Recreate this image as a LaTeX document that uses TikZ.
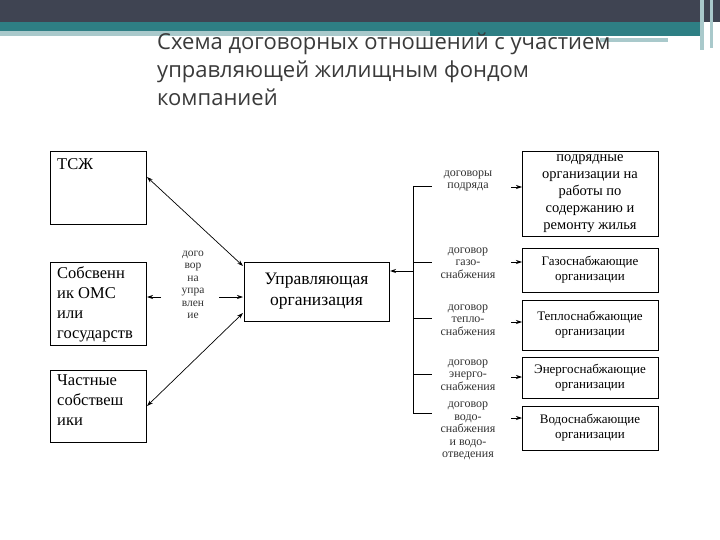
\documentclass[tikz,border=0pt]{standalone}
\usepackage{fontspec}
\setmainfont{Liberation Serif}
\newfontfamily\titlefont{Open Sans}
\usetikzlibrary{arrows.meta}
\definecolor{barc}{HTML}{3F4452}
\definecolor{tealc}{HTML}{2E7F84}
\definecolor{lteal}{HTML}{A9C9CB}
\definecolor{titlec}{HTML}{3A3A3A}
\begin{document}
\begin{tikzpicture}[x=1pt,y=-1pt,
  box/.style={draw,line width=1pt,inner sep=0pt},
  lbl/.style={align=center,font=\fontsize{12}{12.5}\selectfont,text=black!80},
  rtxt/.style={align=center,font=\fontsize{13}{15}\selectfont},
  ltxt/.style={anchor=north west,align=left,font=\fontsize{16.5}{20}\selectfont,inner sep=0pt},
  arr/.style={-{Stealth[length=6pt,width=4pt]},line width=0.7pt},
  darr/.style={{Stealth[length=6pt,width=4pt]}-{Stealth[length=6pt,width=4pt]},line width=0.7pt}]
\useasboundingbox (0,0) rectangle (720,540);
\fill[white] (0,0) rectangle (720,540);
% header
\fill[barc] (0,0) rectangle (720,22);
\fill[tealc] (0,22) rectangle (700,31);
\fill[lteal] (0,31) rectangle (430,36);
\fill[tealc] (430,31) rectangle (700,36);
\fill[lteal] (600,38) rectangle (668,42);
\fill[lteal] (700,0) rectangle (704,50);
\fill[lteal] (710,0) rectangle (713,48);
\node[anchor=north west,align=left,text=titlec,font=\titlefont\fontsize{22}{28}\selectfont,inner sep=0pt] (title) at (157,33) {Схема договорных отношений с участием\\управляющей жилищным фондом\\компанией};
% left boxes
\draw[box] (50,152) rectangle (146,225);
\node[ltxt] (tsj) at (57,158) {ТСЖ};
\draw[box] (50,262) rectangle (146,345);
\node[ltxt] (sob) at (57,266) {Собсвенн\\ик ОМС\\или\\государств};
\draw[box] (50,370) rectangle (146,442);
\node[ltxt] (chast) at (57,374) {Частные\\собствеш\\ики};
\coordinate (tsjR) at (147,177);
\coordinate (sobR) at (147,297);
\coordinate (chR) at (147,406);
% UO
\draw[box] (244,262) rectangle (389,321);
\node[align=center,font=\fontsize{17.5}{21}\selectfont] (uo) at (316.5,291.5) {Управляющая\\организация};
\coordinate (uoA) at (243,266);
\coordinate (uoB) at (243,297);
\coordinate (uoC) at (243,313);
\coordinate (uoR) at (390,271);
\node[lbl,font=\fontsize{11.5}{12.5}\selectfont] (dog) at (193,285) {дого\\вор\\на\\упра\\влен\\ие};
\draw[darr] (tsjR) -- (uoA);
\draw[darr] (chR) -- (uoC);
\coordinate (m1) at (161,297);
\coordinate (m2) at (219,297);
\draw[arr] (m1) -- (sobR);
\draw[arr] (m2) -- (uoB);
% bracket
\coordinate (bT) at (413,186);
\coordinate (bB) at (413,413);
\coordinate (bM) at (413,271);
\draw[line width=1pt] (bT) -- (bB);
\draw[arr,line width=1pt] (bM) -- (uoR);
\foreach \y in {186,262,318,374,413} \draw[line width=0.8pt] (413,\y) -- (432,\y);
% right boxes
\draw[box] (522,152) rectangle (658,236);
\node[rtxt,font=\fontsize{14.5}{17}\selectfont] (r1) at (590,194) {подрядные\\организации на\\работы по\\содержанию и\\ремонту жилья};
\draw[box,line width=0.6pt] (522,248) rectangle (658,292);
\node[rtxt] (r2) at (590,270) {Газоснабжающие\\организации};
\draw[box] (522,300) rectangle (658,350);
\node[rtxt] (r3) at (590,325) {Теплоснабжающие\\организации};
\draw[box] (522,357) rectangle (658,398);
\node[rtxt] (r4) at (590,377.5) {Энергоснабжающие\\организации};
\draw[box] (522,406) rectangle (658,450);
\node[rtxt] (r5) at (590,428) {Водоснабжающие\\организации};
\foreach \y/\n in {187/a,262/b,322/c,377/d,418/e}{
  \coordinate (s\n) at (511,\y); \coordinate (t\n) at (522,\y);
  \draw[arr] (s\n) -- (t\n);}
\node[lbl] (l1) at (468,181) {договоры\\подряда};
\node[lbl] (l2) at (468,263) {договор\\газо-\\снабжения};
\node[lbl] (l3) at (468,320) {договор\\тепло-\\снабжения};
\node[lbl] (l4) at (468,375) {договор\\энерго-\\снабжения};
\node[lbl] (l5) at (468,431) {договор\\водо-\\снабжения\\и водо-\\отведения};
\end{tikzpicture}
\end{document}
